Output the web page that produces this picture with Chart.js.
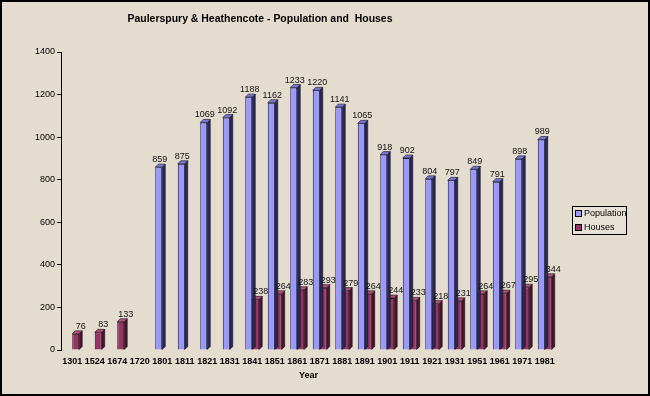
<!DOCTYPE html>
<html>
<head>
<meta charset="utf-8">
<script src="https://cdn.jsdelivr.net/npm/chart.js@4/dist/chart.umd.min.js"></script>
<style>
  html, body { margin: 0; padding: 0; background: #e3dccf; }
  #wrap { width: 650px; height: 396px; position: relative; }
</style>
</head>
<body>
<div id="wrap"><canvas id="chart" width="650" height="396"></canvas></div>
<script>
// census years
var years = ['1301','1524','1674','1720','1801','1811','1821','1831','1841','1851','1861',
             '1871','1881','1891','1901','1911','1921','1931','1951','1961','1971','1981'];
var population = [null, null, null, null, 859, 875, 1069, 1092, 1188, 1162, 1233,
                  1220, 1141, 1065, 918, 902, 804, 797, 849, 791, 898, 989];
var houses = [76, 83, 133, null, null, null, null, null, 238, 264, 283,
              293, 279, 264, 244, 233, 218, 231, 264, 267, 295, 344];
var yTicks = [0, 200, 400, 600, 800, 1000, 1200, 1400];

var chartTitle = 'Paulerspury & Heathencote - Population and  Houses';
var depth = 3;

// frame + background + title + legend
var framePlugin = {
  id: 'frame',
  beforeDraw: function(chart) {
    var ctx = chart.ctx;
    ctx.save();
    ctx.fillStyle = '#e3dccf';
    ctx.fillRect(0, 0, chart.width, chart.height);
    ctx.strokeStyle = '#000';
    ctx.lineWidth = 2;
    ctx.strokeRect(1, 1, chart.width - 2, chart.height - 2);
    ctx.restore();
  },
  afterDraw: function(chart) {
    var ctx = chart.ctx;
    ctx.save();
    ctx.fillStyle = '#000';
    ctx.font = 'bold 11px "Liberation Sans", Arial, sans-serif';
    ctx.textAlign = 'center';
    ctx.textBaseline = 'middle';
    // squeeze a bit, the original font is narrower
    var w = ctx.measureText(chartTitle).width;
    var sx = Math.min(1, 265 / w);
    ctx.translate(260, 19);
    ctx.scale(sx, 1);
    ctx.fillText(chartTitle, 0, 0);
    ctx.setTransform(1, 0, 0, 1, 0, 0);

    // legend box
    var lx = chart.chartArea.right + 16, ly = 206, lw = 54, lh = 28;
    ctx.fillStyle = '#e8e2d6';
    ctx.fillRect(lx, ly, lw, lh);
    ctx.strokeStyle = '#000';
    ctx.lineWidth = 1;
    ctx.strokeRect(lx + 0.5, ly + 0.5, lw, lh);
    ctx.font = '9px "Liberation Sans", Arial, sans-serif';
    ctx.textAlign = 'left';
    chart.data.datasets.forEach(function(ds, i) {
      var yy = ly + 8 + i * 14;
      ctx.fillStyle = ds.backgroundColor;
      ctx.fillRect(lx + 4, yy - 3, 5, 5);
      ctx.strokeStyle = '#000';
      ctx.strokeRect(lx + 3.5, yy - 3.5, 6, 6);
      ctx.fillStyle = '#000';
      ctx.fillText(ds.label, lx + 12, yy);
    });
    ctx.restore();
  }
};

// fake 3D faces on each bar, then the value labels
var depthPlugin = {
  id: 'depth',
  afterDatasetDraw: function(chart, args) {
    var ctx = chart.ctx;
    var ds = chart.data.datasets[args.index];
    ctx.save();
    args.meta.data.forEach(function(bar, j) {
      if (ds.data[j] == null) return;
      var p = bar.getProps(['x', 'y', 'base', 'width'], true);
      var l = p.x - p.width / 2, r = p.x + p.width / 2;
      ctx.fillStyle = ds.sideColor;
      ctx.strokeStyle = '#111';
      ctx.lineWidth = 0.6;
      ctx.beginPath();
      ctx.moveTo(r, p.y);
      ctx.lineTo(r + depth, p.y - depth);
      ctx.lineTo(r + depth, p.base - depth);
      ctx.lineTo(r, p.base);
      ctx.closePath();
      ctx.fill();
      ctx.stroke();
      ctx.fillStyle = ds.topColor;
      ctx.beginPath();
      ctx.moveTo(l, p.y);
      ctx.lineTo(l + depth, p.y - depth);
      ctx.lineTo(r + depth, p.y - depth);
      ctx.lineTo(r, p.y);
      ctx.closePath();
      ctx.fill();
      ctx.stroke();
    });
    ctx.restore();
  },
  afterDatasetsDraw: function(chart) {
    var ctx = chart.ctx;
    ctx.save();
    ctx.fillStyle = '#111';
    ctx.font = '9px "Liberation Sans", Arial, sans-serif';
    ctx.textAlign = 'center';
    ctx.textBaseline = 'bottom';
    chart.data.datasets.forEach(function(ds, i) {
      chart.getDatasetMeta(i).data.forEach(function(bar, j) {
        if (ds.data[j] == null) return;
        ctx.fillText(ds.data[j], bar.x + ds.labelShift, bar.y - depth);
      });
    });
    ctx.restore();
  }
};

var ctx = document.getElementById('chart').getContext('2d');
new Chart(ctx, {
  type: 'bar',
  data: {
    labels: years,
    datasets: [{
      label: 'Population',
      data: population,
      backgroundColor: '#9999ff',
      sideColor: '#28285e',
      topColor: '#7777dd',
      labelShift: 1,
      borderColor: '#1a1a3a',
      borderWidth: 1
    }, {
      label: 'Houses',
      data: houses,
      backgroundColor: '#993366',
      sideColor: '#4a1430',
      topColor: '#b8507f',
      labelShift: 5,
      borderColor: '#2a0a1a',
      borderWidth: 1
    }]
  },
  options: {
    responsive: false,
    animation: false,
    categoryPercentage: 0.62,
    barPercentage: 1,
    layout: { padding: { top: 52, right: 94, bottom: 15, left: 0 } },
    plugins: {
      legend: { display: false },
      title: { display: false },
      tooltip: { enabled: false }
    },
    scales: {
      x: {
        grid: { display: false, drawTicks: false },
        border: { display: false },
        ticks: {
          color: '#000',
          padding: 6,
          maxRotation: 0,
          autoSkip: false,
          font: { family: '"Liberation Sans", Arial, sans-serif', size: 9, weight: 'bold' }
        },
        title: {
          display: true,
          text: 'Year',
          color: '#000',
          padding: { top: 1, bottom: 0 },
          font: { family: '"Liberation Sans", Arial, sans-serif', size: 9, weight: 'bold' }
        },
        afterFit: function(s) { s.height = 31; }
      },
      y: {
        min: 0,
        max: 1400,
        afterBuildTicks: function(s) { s.ticks = yTicks.map(function(v) { return { value: v }; }); },
        grid: { display: true, drawOnChartArea: false, tickLength: 4, color: '#000' },
        border: { display: true, color: '#000', width: 1 },
        ticks: {
          color: '#000',
          padding: 2,
          callback: function(v) { return String(v); },
          font: { family: '"Liberation Sans", Arial, sans-serif', size: 9 }
        },
        afterFit: function(s) { s.width = 61; }
      }
    }
  },
  plugins: [framePlugin, depthPlugin]
});
</script>
</body>
</html>
